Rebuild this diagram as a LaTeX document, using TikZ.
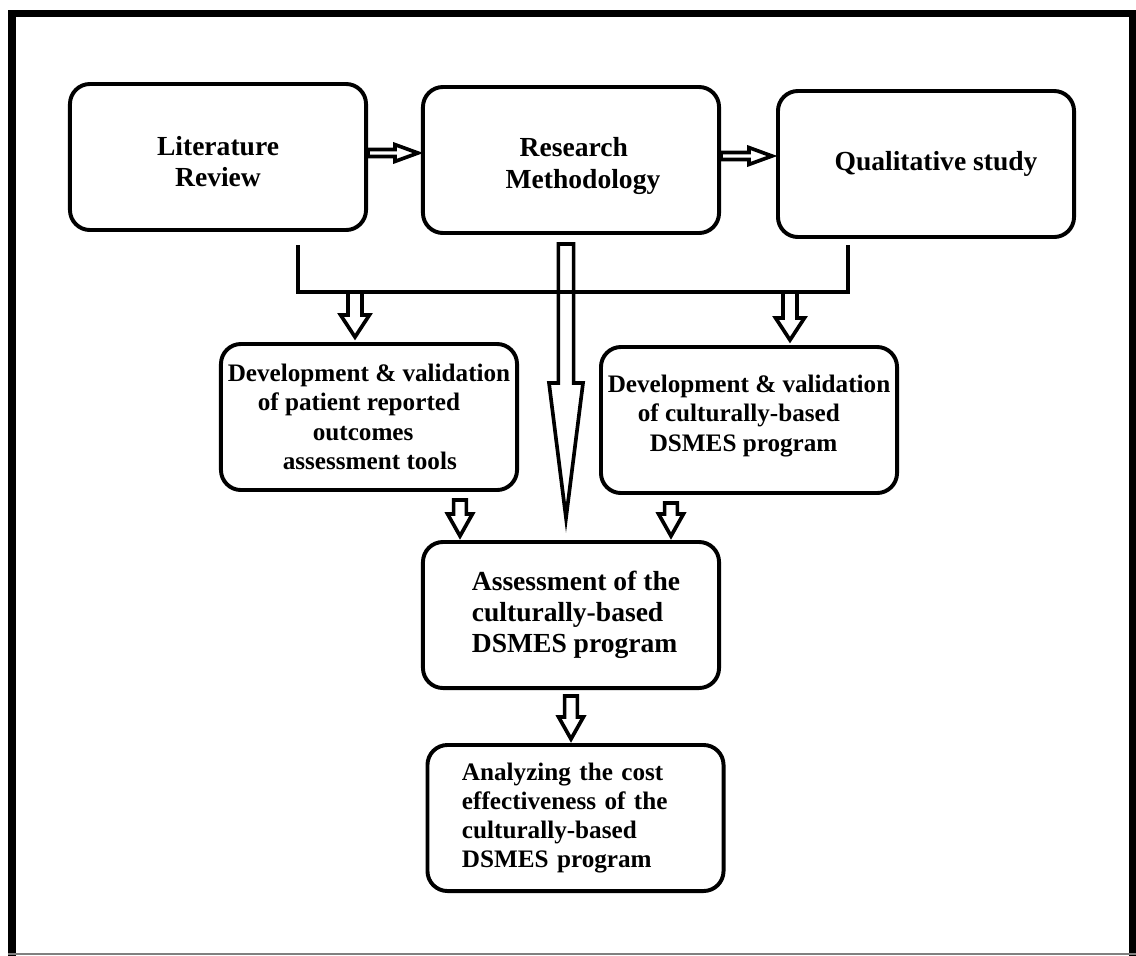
\documentclass[tikz,border=0pt]{standalone}
\usepackage{fontspec}
\setmainfont{Liberation Serif}
\usetikzlibrary{calc}

\tikzset{
  box/.style={draw, line width=2.8pt, rounded corners=0.5cm, minimum width=7.4cm, minimum height=3.65cm, inner sep=0pt},
  bigtxt/.style={font=\fontsize{19.6}{22}\selectfont\bfseries},
  smalltxt/.style={font=\fontsize{17.9}{20.8}\selectfont\bfseries},
  link/.style={line width=2.8pt},
  hollow/.style n args={3}{draw=black, fill=white, line width=2.6pt, line join=miter,
    to path={let \p1=(\tikztostart), \p2=(\tikztotarget), \p3=($(\p2)!#3!(\p1)$) in
      ($(\p1)!#1!90:(\p2)$) -- ($(\p3)!#1!-90:(\p1)$) -- ($(\p3)!#2!-90:(\p1)$) -- (\p2)
      -- ($(\p3)!#2!90:(\p1)$) -- ($(\p3)!#1!90:(\p1)$) -- ($(\p1)!#1!-90:(\p2)$) -- cycle}}
}

\begin{document}
\begin{tikzpicture}[x=0.025cm,y=-0.025cm]
\useasboundingbox (0,0) rectangle (1136,955);
% outer frame
\draw[line width=5pt] (12,958) -- (12,13.5) -- (1132,13.5) -- (1132,958);
\draw[gray, line width=0.8pt] (8,954) -- (1136,954);

% first row
\node[box, bigtxt, align=center] (lit) at (218,157) {\rule{0pt}{20pt}Literature\\Review};
\node[box, bigtxt, align=left] (rm) at (571,160) {\rule{0pt}{22pt}\hspace*{0.95cm}Research\\[1pt]\hspace*{0.6cm}Methodology};
\node[box, bigtxt, align=left] (qs) at (926,164) {\hspace*{0.5cm}Qualitative study};

% second row
\node[box, smalltxt, align=left] (dpro) at (369,417) {Development \& validation\\\hspace*{0.75cm}of patient reported\\\hspace*{2.125cm}outcomes\\\hspace*{1.375cm}assessment tools};
\node[box, smalltxt, align=left] (ddsm) at (749,420) {Development \& validation\\\hspace*{0.75cm}of culturally-based\\\hspace*{1.05cm}DSMES program\rule[-9.6pt]{0pt}{9.6pt}};

% third and fourth row
\node[box, bigtxt, align=left] (ass) at (571,615) {\hspace*{0.25cm}Assessment of the\\\hspace*{0.25cm}culturally-based\\\hspace*{0.25cm}DSMES program};
\node[box, smalltxt, align=left, text width=5.675cm] (ana) at (575.5,818) {Analyzing the cost\\effectiveness of the\\culturally-based\\DSMES program};

% long arrow from the methodology
\draw[hollow={0.19cm}{0.425cm}{3.375cm}] ($(rm.south)+(-5,9)$) to ($(rm.south |- ass.north)+(-5,-22)$);

% bracket under the first row
\coordinate (jl) at (298,292);
\coordinate (jr) at (848,292);
\draw[link] (jl |- 0,245) -- (jl) -- (jr) -- (jr |- 0,245);

% arrows
\draw[hollow={0.0875cm}{0.21cm}{0.575cm}] ($(lit.east)+(0,-4)$) to ($(rm.west)+(-3,-7)$);
\draw[hollow={0.0875cm}{0.21cm}{0.575cm}] ($(rm.east)+(0,-4)$) to ($(qs.west)+(-4,-8)$);

\coordinate (al) at (355,292);
\coordinate (ar) at (790,292);
\draw[hollow={0.175cm}{0.36cm}{0.55cm}] (al) to ($(al |- dpro.north)+(0,-5)$);
\draw[hollow={0.175cm}{0.36cm}{0.55cm}] (ar) to ($(ar |- ddsm.north)+(0,-5)$);

\coordinate (bl) at (460,500);
\coordinate (br) at (671,503);
\draw[hollow={0.16cm}{0.31cm}{0.55cm}] (bl) to ($(bl |- ass.north)+(0,-4)$);
\draw[hollow={0.16cm}{0.31cm}{0.55cm}] (br) to ($(br |- ass.north)+(0,-4)$);
\draw[hollow={0.16cm}{0.31cm}{0.55cm}] ($(ass.south)+(0,6)$) to ($(ass.south |- ana.north)+(0,-4)$);
\end{tikzpicture}
\end{document}
